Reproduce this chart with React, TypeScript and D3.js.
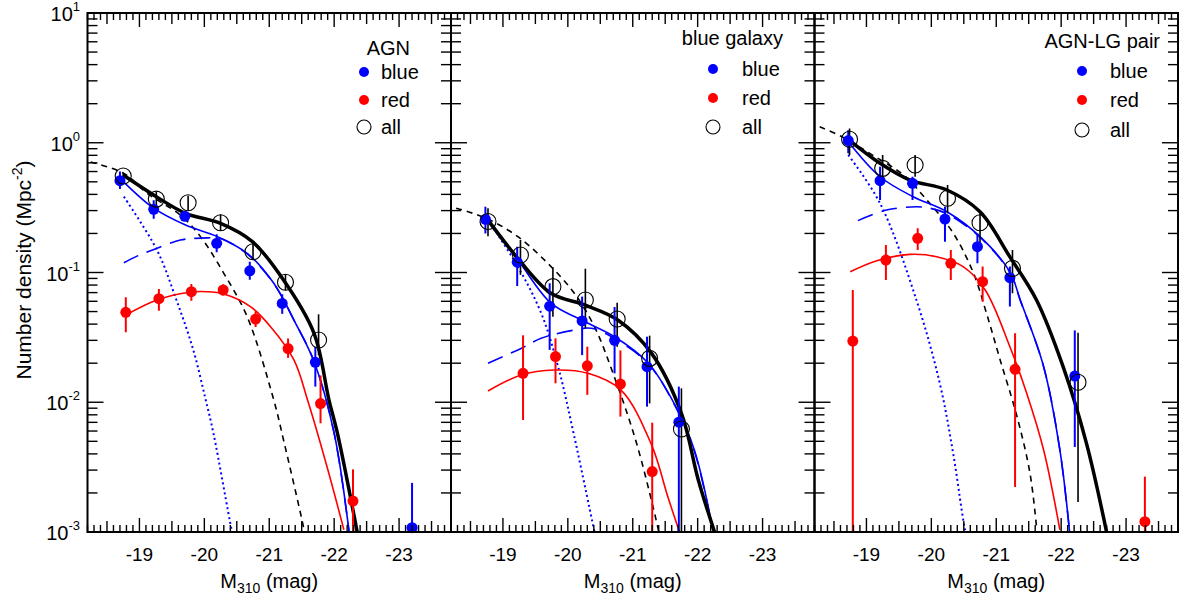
import React from "react";
import * as d3 from "d3";

// ---------- data (M310 mag, density, [lo, hi]) ----------
type Pt = [number, number, number, number];
type CPt = [number, number];

const panelTitles = ["AGN", "blue galaxy", "AGN-LG pair"];
const legendLabels = ["blue", "red", "all"];
const xTickLabels = [-19, -20, -21, -22, -23];
const yTickExps = [1, 0, -1, -2, -3];

// Panel 1: AGN
const agnBlue: Pt[] = [
  [-18.7, 0.51, 0.44, 0.6],
  [-19.22, 0.307, 0.26, 0.36],
  [-19.7, 0.271, 0.25, 0.29],
  [-20.19, 0.168, 0.143, 0.197],
  [-20.7, 0.103, 0.088, 0.121],
  [-21.2, 0.0578, 0.048, 0.068],
  [-21.71, 0.0203, 0.0132, 0.0268],
  [-23.2, 0.00108, 0.0005, 0.00239],
];
const agnRed: Pt[] = [
  [-18.79, 0.0493, 0.0346, 0.0644],
  [-19.3, 0.0628, 0.0508, 0.0746],
  [-19.8, 0.0711, 0.0607, 0.0815],
  [-20.29, 0.0733, 0.0665, 0.081],
  [-20.79, 0.0438, 0.038, 0.05],
  [-21.29, 0.0259, 0.022, 0.031],
  [-21.79, 0.00976, 0.00689, 0.0161],
  [-22.29, 0.00173, 0.0005, 0.00304],
];
const agnAll: Pt[] = [
  [-18.75, 0.555, 0.52, 0.59],
  [-19.26, 0.368, 0.32, 0.42],
  [-19.75, 0.345, 0.3, 0.39],
  [-20.25, 0.242, 0.21, 0.28],
  [-20.75, 0.1445, 0.125, 0.167],
  [-21.25, 0.084, 0.073, 0.097],
  [-21.76, 0.0302, 0.0231, 0.0476],
];
const agnFitTotal: CPt[] = [
  [-18.75, 0.564], [-19.26, 0.384], [-19.71, 0.286], [-20.25, 0.239], [-20.74, 0.173],
  [-21.22, 0.0875], [-21.69, 0.034], [-21.92, 0.0104], [-22.05, 0.00577], [-22.36, 0.00097],
];
const agnFitDashed: CPt[] = [
  [-18.25, 0.71], [-18.76, 0.581], [-19.12, 0.407], [-19.63, 0.277], [-19.94, 0.189],
  [-20.3, 0.0986], [-20.66, 0.0456], [-21.07, 0.0104], [-21.22, 0.00512], [-21.51, 0.0012], [-21.58, 0.0008],
];
const agnFitBlueFaint: CPt[] = [
  [-18.76, 0.384], [-19.27, 0.149], [-19.57, 0.0614], [-19.83, 0.0253], [-20.01, 0.011],
  [-20.14, 0.00577], [-20.42, 0.00104], [-20.45, 0.0009],
];
const agnFitBlueBright: CPt[] = [
  [-18.76, 0.119], [-18.94, 0.132], [-19.09, 0.142], [-19.63, 0.178], [-19.84, 0.183],
  [-20.05, 0.185], [-20.25, 0.183], [-20.66, 0.139], [-21.07, 0.082], [-21.38, 0.043],
  [-21.69, 0.0206], [-22.0, 0.00577], [-22.23, 0.001],
];
const agnFitBlue: CPt[] = [
  [-18.7, 0.532], [-19.22, 0.313], [-19.71, 0.232], [-20.2, 0.189], [-20.66, 0.1406],
  [-21.07, 0.0826], [-21.38, 0.043], [-21.69, 0.0206], [-22.0, 0.00577], [-22.23, 0.001],
];
const agnFitRed: CPt[] = [
  [-18.79, 0.047], [-19.27, 0.0614], [-19.78, 0.0705], [-20.04, 0.0711], [-20.3, 0.0682],
  [-20.71, 0.0546], [-21.02, 0.0382], [-21.38, 0.0212], [-21.59, 0.0104], [-21.89, 0.00318], [-22.15, 0.00104],
];

// Panel 2: blue galaxy
const bgBlue: Pt[] = [
  [-18.73, 0.257, 0.2, 0.321],
  [-19.22, 0.12, 0.0787, 0.158],
  [-19.72, 0.055, 0.0253, 0.0826],
  [-20.22, 0.0423, 0.0231, 0.0652],
  [-20.72, 0.03, 0.0167, 0.0542],
  [-21.22, 0.0188, 0.00925, 0.032],
  [-21.71, 0.00702, 0.0005, 0.0132],
];
const bgRed: Pt[] = [
  [-19.31, 0.0167, 0.0073, 0.0328],
  [-19.81, 0.0225, 0.014, 0.0311],
  [-20.3, 0.0191, 0.0114, 0.0268],
  [-20.81, 0.0138, 0.00775, 0.0251],
  [-21.3, 0.00292, 0.0005, 0.00696],
];
const bgAll: Pt[] = [
  [-18.77, 0.247, 0.19, 0.313],
  [-19.27, 0.1365, 0.0958, 0.178],
  [-19.77, 0.0778, 0.0456, 0.1097],
  [-20.27, 0.0614, 0.0372, 0.107],
  [-20.76, 0.0438, 0.0268, 0.0585],
  [-21.26, 0.0218, 0.0098, 0.0326],
  [-21.75, 0.00622, 0.0005, 0.0128],
];
const bgFitTotal: CPt[] = [
  [-18.74, 0.266], [-19.23, 0.1285], [-19.74, 0.0692], [-20.26, 0.0562], [-20.77, 0.043],
  [-21.29, 0.0238], [-21.75, 0.00822], [-22.01, 0.00252], [-22.26, 0.001],
];
const bgFitDashed: CPt[] = [
  [-18.28, 0.313], [-18.74, 0.262], [-19.23, 0.189], [-19.69, 0.1178], [-20.1, 0.0692],
  [-20.41, 0.0382], [-20.71, 0.016], [-21.05, 0.005], [-21.36, 0.00124], [-21.42, 0.0009],
];
const bgFitBlueFaint: CPt[] = [
  [-18.77, 0.254], [-19.23, 0.111], [-19.59, 0.0485], [-19.85, 0.0188], [-20.1, 0.00543], [-20.41, 0.001],
];
const bgFitBlueBright: CPt[] = [
  [-18.77, 0.02], [-19.28, 0.026], [-19.59, 0.0311], [-20.1, 0.036], [-20.36, 0.0372],
  [-20.72, 0.031], [-21.24, 0.0198], [-21.65, 0.0094], [-21.95, 0.0042], [-22.24, 0.001],
];
const bgFitBlue: CPt[] = [
  [-18.74, 0.257], [-19.23, 0.1247], [-19.74, 0.058], [-20.21, 0.043], [-20.72, 0.032],
  [-21.24, 0.02], [-21.65, 0.00953], [-21.95, 0.00427], [-22.24, 0.001],
];
const bgFitRed: CPt[] = [
  [-18.77, 0.0122], [-19.28, 0.0162], [-19.79, 0.0177], [-20.31, 0.0167], [-20.82, 0.0124],
  [-21.29, 0.00469], [-21.54, 0.00187], [-21.72, 0.001],
];

// Panel 3: AGN-LG pair
const pairBlue: Pt[] = [
  [-18.72, 1.04, 0.829, 1.25],
  [-19.21, 0.51, 0.362, 0.653],
  [-19.71, 0.487, 0.362, 0.547],
  [-20.21, 0.258, 0.1726, 0.321],
  [-20.71, 0.158, 0.1178, 0.2],
  [-21.21, 0.0912, 0.0546, 0.111],
  [-22.21, 0.0159, 0.00452, 0.0358],
];
const pairRed: Pt[] = [
  [-18.79, 0.0296, 0.0005, 0.0733],
  [-19.3, 0.1247, 0.0875, 0.163],
  [-19.79, 0.1835, 0.149, 0.219],
  [-20.3, 0.1178, 0.0875, 0.149],
  [-20.79, 0.0849, 0.0596, 0.111],
  [-21.29, 0.01795, 0.00222, 0.034],
  [-23.29, 0.0012, 0.0005, 0.00267],
];
const pairAll: Pt[] = [
  [-18.74, 1.063, 0.805, 1.29],
  [-19.25, 0.635, 0.501, 0.805],
  [-19.75, 0.674, 0.547, 0.805],
  [-20.25, 0.373, 0.286, 0.472],
  [-20.75, 0.242, 0.158, 0.294],
  [-21.25, 0.1076, 0.0692, 0.149],
  [-22.26, 0.01426, 0.0017, 0.0344],
];
const pairFitTotal: CPt[] = [
  [-18.7, 1.082], [-19.21, 0.695], [-19.67, 0.516], [-20.24, 0.4325], [-20.75, 0.294],
  [-21.21, 0.132], [-21.62, 0.0614], [-22.03, 0.0188], [-22.39, 0.00482], [-22.7, 0.001],
];
const pairFitDashed: CPt[] = [
  [-18.28, 1.33], [-18.64, 1.1], [-19.1, 0.8], [-19.57, 0.564], [-19.93, 0.362], [-20.34, 0.2],
  [-20.65, 0.0986], [-20.85, 0.0485], [-21.06, 0.0212], [-21.32, 0.00775], [-21.52, 0.00283], [-21.62, 0.0011],
];
const pairFitBlueFaint: CPt[] = [
  [-18.72, 0.805], [-19.21, 0.341], [-19.77, 0.0614], [-20.13, 0.014], [-20.34, 0.00393],
  [-20.52, 0.00104], [-20.56, 0.0009],
];
const pairFitBlueBright: CPt[] = [
  [-18.87, 0.251], [-19.31, 0.303], [-19.77, 0.321], [-19.98, 0.313], [-20.24, 0.284],
  [-20.75, 0.187], [-21.21, 0.1], [-21.37, 0.061], [-21.73, 0.0188], [-21.98, 0.00429], [-22.13, 0.001],
];
const pairFitBlue: CPt[] = [
  [-18.7, 1.05], [-19.21, 0.547], [-19.72, 0.384], [-20.24, 0.294], [-20.75, 0.189],
  [-21.21, 0.101], [-21.37, 0.0614], [-21.73, 0.0188], [-21.98, 0.00429], [-22.13, 0.001],
];
const pairFitRed: CPt[] = [
  [-18.75, 0.1014], [-19.16, 0.1233], [-19.67, 0.138], [-20.08, 0.1324], [-20.49, 0.111],
  [-20.83, 0.0733], [-21.21, 0.0268], [-21.47, 0.0117], [-21.73, 0.00429], [-21.98, 0.00104],
];

const panels = [
  { blue: agnBlue, red: agnRed, all: agnAll, total: agnFitTotal, dashed: agnFitDashed, faint: agnFitBlueFaint, bright: agnFitBlueBright, blueFit: agnFitBlue, redFit: agnFitRed },
  { blue: bgBlue, red: bgRed, all: bgAll, total: bgFitTotal, dashed: bgFitDashed, faint: bgFitBlueFaint, bright: bgFitBlueBright, blueFit: bgFitBlue, redFit: bgFitRed },
  { blue: pairBlue, red: pairRed, all: pairAll, total: pairFitTotal, dashed: pairFitDashed, faint: pairFitBlueFaint, bright: pairFitBlueBright, blueFit: pairFitBlue, redFit: pairFitRed },
];

// ---------- layout ----------
const W = 1192;
const H = 603;
const PANEL_LEFT = [87.5, 451, 814.5];
const PANEL_W = 363.5;
const TOP = 13;
const BOTTOM = 532;
const FONT = "'Liberation Sans', Arial, Helvetica, sans-serif";
const BLUE = "#0000ff";
const RED = "#ff0000";

const legendLayout = [
  { titleRight: 410, titleY: 55, dotX: 364, textX: 381, rows: [72, 100, 127] },
  { titleRight: 783, titleY: 45, dotX: 713, textX: 742, rows: [69, 98, 127] },
  { titleRight: 1160, titleY: 48, dotX: 1082, textX: 1110, rows: [71, 100, 130] },
];

const xDomain: [number, number] = [-18.2, -23.8];
const yDomain: [number, number] = [1e-3, 10];

function Panel({ idx }: { idx: number }) {
  const d = panels[idx];
  const left = PANEL_LEFT[idx];
  const right = left + PANEL_W;
  const x = d3.scaleLinear().domain(xDomain).range([left, right]);
  const y = d3.scaleLog().domain(yDomain).range([BOTTOM, TOP]);
  const line = d3
    .line<CPt>()
    .x((p) => x(p[0]))
    .y((p) => y(p[1]))
    .curve(d3.curveCatmullRom.alpha(0.5));
  const clipId = `clip${idx}`;

  const xt: { v: number; len: number }[] = [];
  for (let t = 182; t <= 238; t++) {
    const len = t % 10 === 0 ? 14 : t % 5 === 0 ? 11 : 7;
    xt.push({ v: -t / 10, len });
  }
  const yt: { v: number; len: number }[] = [];
  for (let e = -3; e <= 1; e++) {
    yt.push({ v: Math.pow(10, e), len: 16 });
    if (e < 1) for (let k = 2; k <= 9; k++) yt.push({ v: k * Math.pow(10, e), len: 10 });
  }

  const lg = legendLayout[idx];

  const errBars = (pts: Pt[], color: string, w: number) =>
    pts.map((p, i) => (
      <line key={i} x1={x(p[0])} x2={x(p[0])} y1={y(p[2])} y2={y(p[3])} stroke={color} strokeWidth={w} />
    ));

  return (
    <g>
      <defs>
        <clipPath id={clipId}>
          <rect x={left} y={TOP} width={PANEL_W} height={BOTTOM - TOP} />
        </clipPath>
      </defs>
      <g clipPath={`url(#${clipId})`} fill="none">
        <path d={line(d.dashed) || ""} stroke="#000" strokeWidth={1.6} strokeDasharray="6 5" />
        <path d={line(d.faint) || ""} stroke={BLUE} strokeWidth={2} strokeDasharray="2 3" />
        <path d={line(d.bright) || ""} stroke={BLUE} strokeWidth={1.6} strokeDasharray="16 9" />
        <path d={line(d.redFit) || ""} stroke={RED} strokeWidth={1.6} />
        <path d={line(d.blueFit) || ""} stroke={BLUE} strokeWidth={1.6} />
        <path d={line(d.total) || ""} stroke="#000" strokeWidth={3.5} />
        {errBars(d.red, RED, 2)}
        {errBars(d.blue, BLUE, 2)}
        {errBars(d.all, "#000", 1.6)}
      </g>
      {d.red.map((p, i) => (
        <circle key={"r" + i} cx={x(p[0])} cy={y(p[1])} r={5.5} fill={RED} />
      ))}
      {d.blue.map((p, i) => (
        <circle key={"b" + i} cx={x(p[0])} cy={y(p[1])} r={5.5} fill={BLUE} />
      ))}
      {d.all.map((p, i) => (
        <circle key={"a" + i} cx={x(p[0])} cy={y(p[1])} r={8} fill="none" stroke="#000" strokeWidth={1.1} />
      ))}

      <rect x={left} y={TOP} width={PANEL_W} height={BOTTOM - TOP} fill="none" stroke="#000" strokeWidth={2} />
      {xt.map((t, i) => (
        <g key={"xt" + i}>
          <line x1={x(t.v)} x2={x(t.v)} y1={BOTTOM} y2={BOTTOM - t.len} stroke="#000" strokeWidth={1.4} />
          <line x1={x(t.v)} x2={x(t.v)} y1={TOP} y2={TOP + t.len} stroke="#000" strokeWidth={1.4} />
        </g>
      ))}
      {yt.map((t, i) => (
        <g key={"yt" + i}>
          <line x1={left} x2={left + t.len} y1={y(t.v)} y2={y(t.v)} stroke="#000" strokeWidth={1.4} />
          <line x1={right} x2={right - t.len} y1={y(t.v)} y2={y(t.v)} stroke="#000" strokeWidth={1.4} />
        </g>
      ))}
      {xTickLabels.map((v) => (
        <text key={"xl" + v} x={x(v)} y={561} textAnchor="middle" fontSize={19} fontFamily={FONT}>
          {"-" + Math.abs(v)}
        </text>
      ))}
      <text x={(left + right) / 2} y={588} textAnchor="middle" fontSize={20} fontFamily={FONT}>
        M
        <tspan fontSize={14} dy={5}>310</tspan>
        <tspan dy={-5}> (mag)</tspan>
      </text>
      {idx === 0 &&
        yTickExps.map((e) => (
          <text key={"yl" + e} x={80} y={y(Math.pow(10, e)) + 8} textAnchor="end" fontSize={20} fontFamily={FONT}>
            10
            <tspan fontSize={13} dy={-10}>{e < 0 ? "-" + Math.abs(e) : String(e)}</tspan>
          </text>
        ))}

      <text x={lg.titleRight} y={lg.titleY} textAnchor="end" fontSize={20} fontFamily={FONT}>
        {panelTitles[idx]}
      </text>
      {legendLabels.map((lab, i) => (
        <g key={"lg" + i}>
          {i < 2 ? (
            <circle cx={lg.dotX} cy={lg.rows[i]} r={5} fill={i === 0 ? BLUE : RED} />
          ) : (
            <circle cx={lg.dotX} cy={lg.rows[i]} r={7} fill="none" stroke="#000" strokeWidth={1.1} />
          )}
          <text x={lg.textX} y={lg.rows[i] + 7} fontSize={20} fontFamily={FONT}>
            {lab}
          </text>
        </g>
      ))}
    </g>
  );
}

export default function App() {
  return (
    <svg width={W} height={H} style={{ position: "absolute", left: 0, top: 0, background: "#fff" }}>
      <rect x={0} y={0} width={W} height={H} fill="#fff" />
      {[0, 1, 2].map((i) => (
        <Panel key={i} idx={i} />
      ))}
      <text transform="translate(31,270) rotate(-90)" textAnchor="middle" fontSize={21} fontFamily={FONT}>
        Number density (Mpc
        <tspan fontSize={14} dy={-9}>-2</tspan>
        <tspan dy={9}>)</tspan>
      </text>
    </svg>
  );
}
